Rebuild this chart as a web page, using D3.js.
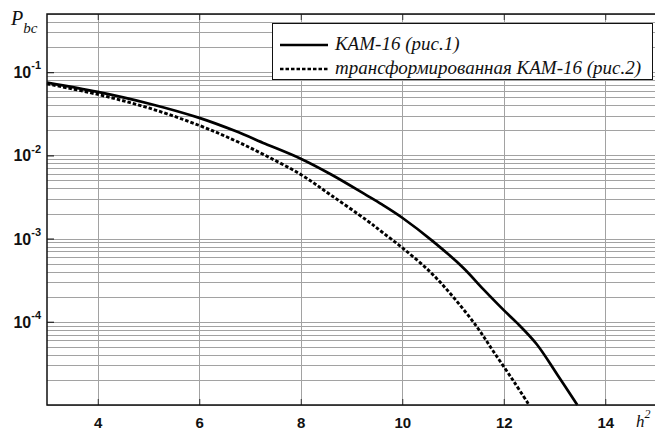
<!DOCTYPE html>
<html><head><meta charset="utf-8">
<script src="https://cdn.jsdelivr.net/npm/d3@7"></script>
<style>body{margin:0;background:#fff}svg{display:block}</style>
</head><body>
<svg id="c" width="655" height="430"></svg>
<script>
// Data
const xTicks = [4, 6, 8, 10, 12, 14];
const yDecades = [1e-1, 1e-2, 1e-3, 1e-4];
const yDecadeLabels = ["-1", "-2", "-3", "-4"];
const seriesNames = ["КАМ-16 (рис.1)", "трансформированная КАМ-16 (рис.2)"];

const solidX = [3, 4, 5, 6, 6.7, 7.3, 8, 8.6, 9.3, 9.6, 10, 10.6, 11.2, 11.6, 12, 12.25, 12.65, 13.05, 13.45];
const solidY = [0.0750, 0.0579, 0.0420, 0.0282, 0.0197, 0.0138, 0.00912, 0.00589, 0.00331, 0.00257, 0.00178,
                0.000933, 0.000447, 0.000245, 0.000138, 0.0000985, 0.0000537, 0.0000234, 0.00001];
const dashX = [3, 4, 5, 6, 6.7, 7.3, 8, 8.6, 9.3, 9.6, 10, 10.55, 11, 11.47, 11.8, 12.2, 12.5];
const dashY = [0.0724, 0.0540, 0.0372, 0.0229, 0.0151, 0.0100, 0.00589, 0.00331, 0.00166, 0.00120, 0.000776,
               0.000398, 0.000200, 0.0000871, 0.0000437, 0.0000191, 0.00001];

const svg = d3.select("#c");
const L = 47, R = 656, T = 14, B = 405;
const x = d3.scaleLinear().domain([3, 15]).range([L, R]);
const y = d3.scaleLog().domain([1e-5, 0.5]).range([B, T]);
const serif = "'Liberation Serif', 'Times New Roman', serif";
const sans = "'Liberation Sans', Arial, sans-serif";

// grid
const minor = [];
for (let e = -5; e <= -1; e++) for (let m = 1; m <= 9; m++) {
  const v = m * Math.pow(10, e);
  if (v >= 1e-5 && v <= 0.5) minor.push(v);
}
const grid = svg.append("g").attr("stroke", "#a2a2a2").attr("stroke-width", 1).attr("shape-rendering", "crispEdges");
grid.selectAll("line.h").data(minor).join("line").attr("class", "h")
  .attr("x1", L).attr("x2", R).attr("y1", d => Math.round(y(d)) + 0.5).attr("y2", d => Math.round(y(d)) + 0.5);
grid.selectAll("line.v").data(xTicks).join("line").attr("class", "v")
  .attr("y1", T).attr("y2", B).attr("x1", d => Math.round(x(d)) + 0.5).attr("x2", d => Math.round(x(d)) + 0.5);

// curves
const line = d3.line().x(d => x(d[0])).y(d => y(d[1])).curve(d3.curveCatmullRom.alpha(0.5));
svg.append("path").datum(solidX.map((v, i) => [v, solidY[i]]))
  .attr("d", line).attr("fill", "none").attr("stroke", "#000").attr("stroke-width", 2.7);
svg.append("path").datum(dashX.map((v, i) => [v, dashY[i]]))
  .attr("d", line).attr("fill", "none").attr("stroke", "#000").attr("stroke-width", 2.9)
  .attr("stroke-dasharray", "3.5,2");

// axes
const xAxis = svg.append("g").attr("transform", `translate(0,${B})`)
  .call(d3.axisBottom(x).tickValues(xTicks).tickSizeInner(-6).tickSizeOuter(0).tickPadding(12));
xAxis.select(".domain").remove();
xAxis.selectAll("text").style("font-family", sans)
  .style("font-size", "15px").style("font-weight", "bold").attr("fill", "#111");
xAxis.selectAll("line").attr("stroke", "#333");

const xTop = svg.append("g").attr("transform", `translate(0,${T})`)
  .call(d3.axisTop(x).tickValues(xTicks).tickSizeInner(-6).tickSizeOuter(0).tickFormat(""));
xTop.select(".domain").remove();
xTop.selectAll("line").attr("stroke", "#333");

const yAxis = svg.append("g").attr("transform", `translate(${L},0)`)
  .call(d3.axisLeft(y).tickValues(yDecades).tickSizeInner(-7).tickSizeOuter(0).tickFormat(""));
yAxis.select(".domain").remove();
yAxis.selectAll("line").attr("stroke", "#222").attr("stroke-width", 1.2);
yAxis.selectAll(".tick text").each(function (d, i) {
  const t = d3.select(this).style("font-family", sans)
    .style("font-weight", "bold").attr("fill", "#111").style("font-size", "16px").attr("dy", "0.35em").attr("x", -6);
  t.append("tspan").text("10");
  t.append("tspan").style("font-size", "11px").attr("dy", "-0.8em").text(yDecadeLabels[i]);
});

// frame
svg.append("path").attr("d", `M${R},${T}H${L}V${B}H${R}`).attr("fill", "none")
  .attr("stroke", "#111").attr("stroke-width", 1.5);

// axis titles
const ylab = svg.append("text").attr("x", 11).attr("y", 25)
  .style("font-family", serif).style("font-style", "italic").attr("fill", "#111");
ylab.append("tspan").style("font-size", "20px").text("P");
ylab.append("tspan").style("font-size", "15px").attr("dy", 8).attr("dx", 0).text("bc");

const xlab = svg.append("text").attr("x", 636).attr("y", 427)
  .style("font-family", serif).style("font-style", "italic").attr("fill", "#111");
xlab.append("tspan").style("font-size", "17px").text("h");
xlab.append("tspan").style("font-size", "12px").attr("dy", -9).text("2");

// legend
const lg = svg.append("g");
lg.append("rect").attr("x", 272.5).attr("y", 23.5).attr("width", 380).attr("height", 56)
  .attr("fill", "#fff").attr("stroke", "#111").attr("stroke-width", 1);
const rows = [{y: 45, dash: null}, {y: 69, dash: "3.5,2"}];
rows.forEach((r, i) => {
  lg.append("line").attr("x1", 280).attr("x2", 328).attr("y1", r.y).attr("y2", r.y)
    .attr("stroke", "#000").attr("stroke-width", 2.7).attr("stroke-dasharray", r.dash);
  lg.append("text").attr("x", 335).attr("y", r.y + 5).text(seriesNames[i])
    .style("font-family", serif).style("font-style", "italic")
    .style("font-size", "19px").attr("fill", "#111");
});
</script>
</body></html>
